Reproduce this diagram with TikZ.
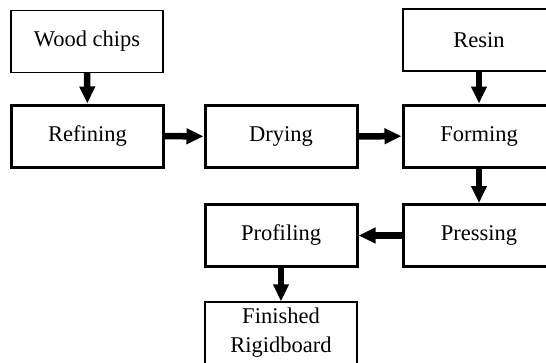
\documentclass[tikz,border=0pt]{standalone}
\usepackage{fontspec}
\setmainfont{Liberation Serif}
\usetikzlibrary{arrows.meta}

\begin{document}
\begin{tikzpicture}[x=1pt,y=-1pt,
  box/.style={draw,line width=1.4pt,minimum width=152pt,minimum height=62pt,inner sep=0pt,align=center,font=\fontsize{22.5}{29}\selectfont},
  stage/.style={box,line width=3pt},
  flow/.style={line width=6.5pt,-{Triangle[length=17pt,width=15pt]}}]
\useasboundingbox (0,0) rectangle (546,362);
% inputs
\node[box] (chips) at (87,41.5) {Wood chips};
\node[box] (resin) at (479,40) {Resin};
% process line
\node[stage] (refine) at (87.5,136) {Refining};
\node[stage] (dry) at (281,136.5) {Drying};
\node[stage] (form) at (479,136) {Forming};
\node[stage] (press) at (479,235.5) {Pressing};
\node[stage] (prof) at (281,235.5) {Profiling};
\node[box] (fin) at (281,333) {Finished\\Rigidboard};
% arrows
\draw[flow] (chips) -- (refine);
\draw[flow] (refine) -- (dry);
\draw[flow] (dry) -- (form);
\draw[flow] (resin) -- (form);
\draw[flow] (form) -- (press);
\draw[flow] (press) -- (prof);
\draw[flow] (prof) -- (fin);
\end{tikzpicture}
\end{document}
